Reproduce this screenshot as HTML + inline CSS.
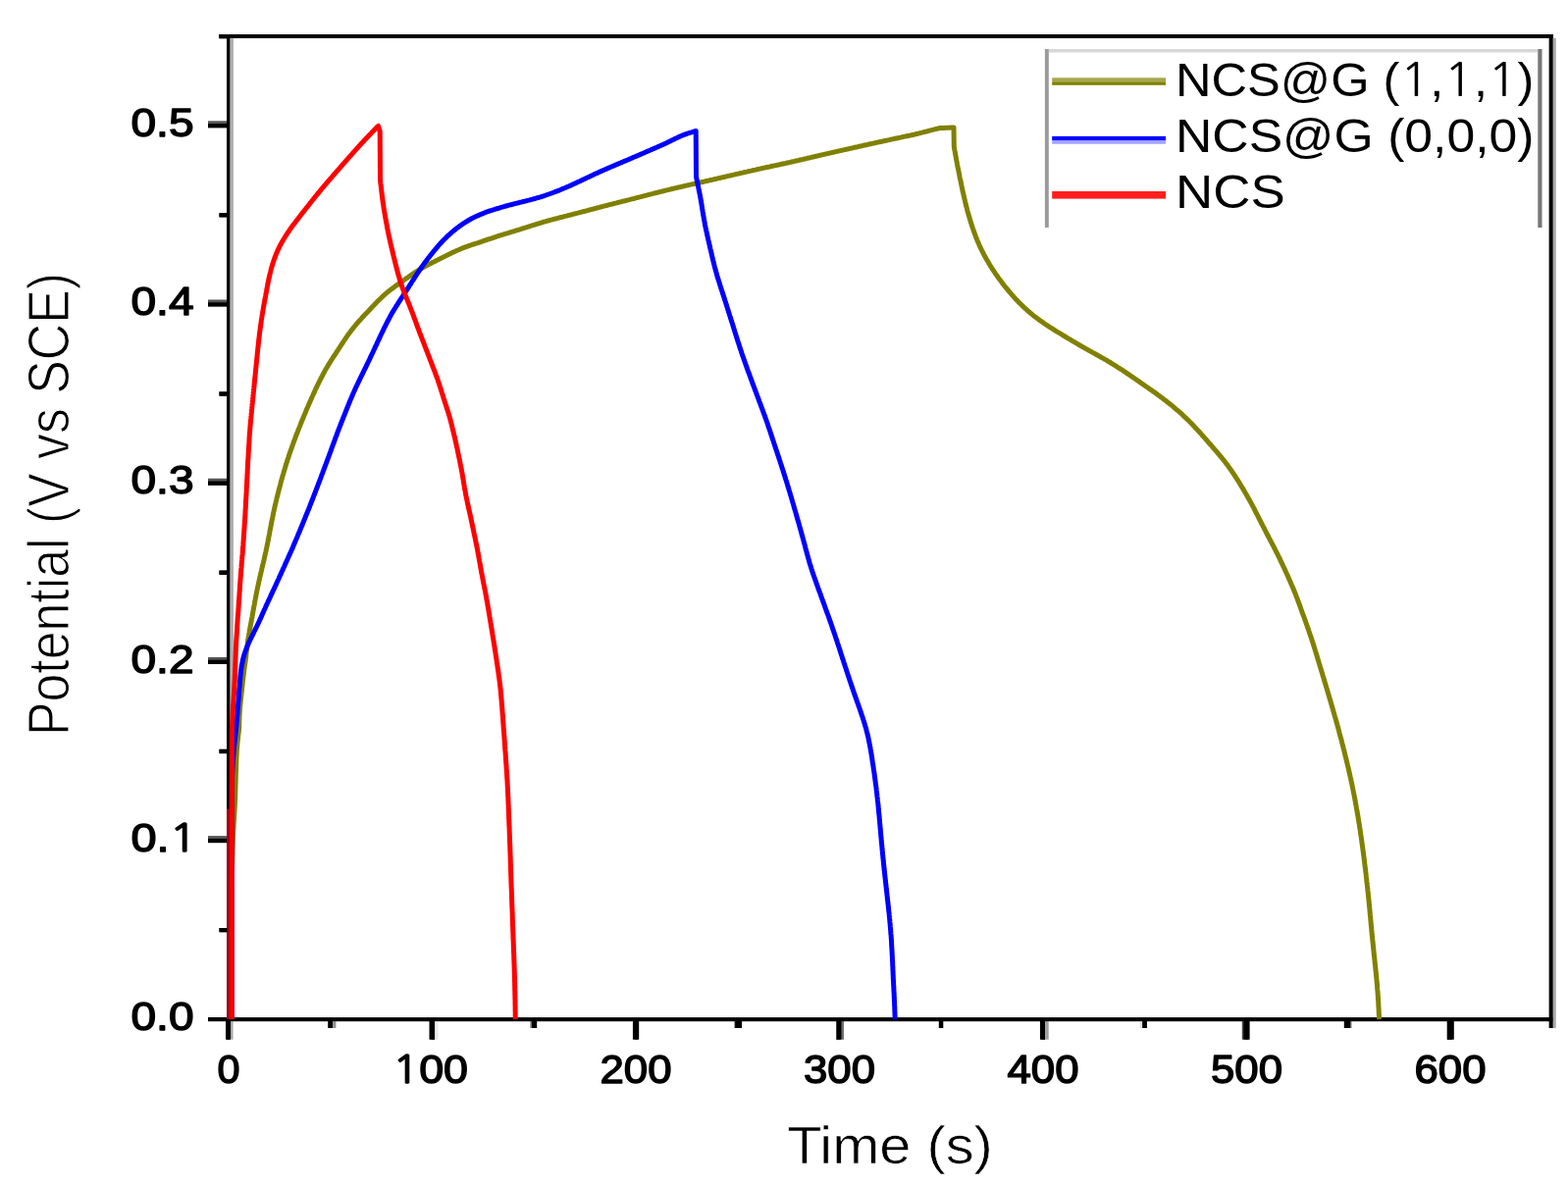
<!DOCTYPE html>
<html><head><meta charset="utf-8"><title>GCD plot</title>
<style>html,body{margin:0;padding:0;background:#fff;} svg{display:block;} text{font-family:'Liberation Sans', sans-serif;fill:#000;}</style>
</head><body>
<svg width="1598" height="1209" viewBox="0 0 1598 1209">
<rect x="0" y="0" width="1598" height="1209" fill="#fff"/>

<g id="frame">
<rect x="223" y="35" width="1360" height="3.8" fill="#000"/>
<rect x="231" y="35" width="3.5" height="1006" fill="#000"/>
<rect x="234.5" y="38.8" width="3.3" height="998.5" fill="#b0b0b0"/>
<rect x="212" y="1037.3" width="1371" height="3.8" fill="#000"/>
<rect x="1578.8" y="35" width="3.9" height="1013" fill="#000"/>
<rect x="1582.7" y="38.8" width="2.8" height="1009" fill="#a8a8a8"/>
<rect x="231" y="824.5" width="3.4" height="214.5" fill="#a00000"/>
</g>
<g id="yticks">
<rect x="212" y="852.1" width="19" height="3.4" fill="#555"/>
<rect x="212" y="855.5" width="19" height="3.7" fill="#000"/>
<rect x="212" y="669.9" width="19" height="3.4" fill="#555"/>
<rect x="212" y="673.3" width="19" height="3.7" fill="#000"/>
<rect x="212" y="487.7" width="19" height="3.4" fill="#555"/>
<rect x="212" y="491.1" width="19" height="3.7" fill="#000"/>
<rect x="212" y="305.5" width="19" height="3.4" fill="#555"/>
<rect x="212" y="308.9" width="19" height="3.7" fill="#000"/>
<rect x="212" y="123.3" width="19" height="3.4" fill="#555"/>
<rect x="212" y="126.7" width="19" height="3.7" fill="#000"/>
<rect x="223.5" y="946.0" width="8" height="4.4" fill="#000"/>
<rect x="223.5" y="763.8" width="8" height="4.4" fill="#000"/>
<rect x="223.5" y="581.6" width="8" height="4.4" fill="#000"/>
<rect x="223.5" y="399.4" width="8" height="4.4" fill="#000"/>
<rect x="223.5" y="217.2" width="8" height="4.4" fill="#000"/>
<rect x="223.5" y="35.0" width="8" height="4.4" fill="#000"/>
</g>
<g id="xticks">
<rect x="231" y="1041" width="3.4" height="18.7" fill="#000"/>
<rect x="234.4" y="1041" width="3.1" height="18.7" fill="#a8a8a8"/>
<rect x="335.3" y="1041" width="3.9" height="7" fill="#000"/>
<rect x="339.2" y="1041" width="3.2" height="7" fill="#909090"/>
<rect x="439.4" y="1041" width="3.9" height="18.7" fill="#000"/>
<rect x="443.3" y="1041" width="3.2" height="18.7" fill="#ececec"/>
<rect x="540.2" y="1041" width="3.1" height="7" fill="#909090"/>
<rect x="543.3" y="1041" width="3.9" height="7" fill="#000"/>
<rect x="644" y="1041" width="3.3" height="18.7" fill="#ececec"/>
<rect x="647.3" y="1041" width="3.9" height="18.7" fill="#000"/>
<rect x="748.2" y="1041" width="3.2" height="7" fill="#808080"/>
<rect x="751.4" y="1041" width="4.7" height="7" fill="#000"/>
<rect x="852.5" y="1041" width="3.9" height="18.7" fill="#000"/>
<rect x="856.4" y="1041" width="3.6" height="18.7" fill="#707070"/>
<rect x="957" y="1041" width="3.8" height="7" fill="#000"/>
<rect x="1061.4" y="1041" width="3.9" height="18.7" fill="#000"/>
<rect x="1065.3" y="1041" width="3.4" height="18.7" fill="#a0a0a0"/>
<rect x="1161.7" y="1041" width="3.2" height="7" fill="#e0e0e0"/>
<rect x="1164.9" y="1041" width="3.9" height="7" fill="#000"/>
<rect x="1265.8" y="1041" width="3.9" height="18.7" fill="#444"/>
<rect x="1269.7" y="1041" width="3.9" height="18.7" fill="#000"/>
<rect x="1369.8" y="1041" width="3.9" height="7" fill="#000"/>
<rect x="1373.7" y="1041" width="3.9" height="7" fill="#909090"/>
<rect x="1474.7" y="1041" width="7.1" height="18.7" fill="#000"/>
</g>
<g id="frame">
<rect x="223" y="35" width="1360" height="3.8" fill="#000"/>
<rect x="231" y="35" width="3.5" height="1006" fill="#000"/>
<rect x="234.5" y="38.8" width="3.3" height="998.5" fill="#b0b0b0"/>
<rect x="212" y="1037.3" width="1371" height="3.8" fill="#000"/>
<rect x="1578.8" y="35" width="3.9" height="1013" fill="#000"/>
<rect x="1582.7" y="38.8" width="2.8" height="1009" fill="#a8a8a8"/>
<rect x="231" y="824.5" width="3.4" height="214.5" fill="#a00000"/>
</g>
<g id="yticks" fill="#000">
<rect x="212" y="1037.1" width="19" height="3.8"/>
<rect x="212" y="854.9" width="19" height="3.8"/>
<rect x="212" y="672.7" width="19" height="3.8"/>
<rect x="212" y="490.5" width="19" height="3.8"/>
<rect x="212" y="308.3" width="19" height="3.8"/>
<rect x="212" y="126.1" width="19" height="3.8"/>
<rect x="223.5" y="946.0" width="8" height="3.8"/>
<rect x="223.5" y="763.8" width="8" height="3.8"/>
<rect x="223.5" y="581.6" width="8" height="3.8"/>
<rect x="223.5" y="399.4" width="8" height="3.8"/>
<rect x="223.5" y="217.2" width="8" height="3.8"/>
<rect x="223.5" y="35.0" width="8" height="3.8"/>
</g>
<g id="xticks" fill="#000">
<rect x="230.0" y="1041" width="5" height="18.7"/>
<rect x="437.5" y="1041" width="5" height="18.7"/>
<rect x="645.0" y="1041" width="5" height="18.7"/>
<rect x="852.5" y="1041" width="5" height="18.7"/>
<rect x="1060.0" y="1041" width="5" height="18.7"/>
<rect x="1267.5" y="1041" width="5" height="18.7"/>
<rect x="1475.0" y="1041" width="5" height="18.7"/>
<rect x="334.2" y="1041" width="4.5" height="7"/>
<rect x="541.8" y="1041" width="4.5" height="7"/>
<rect x="749.2" y="1041" width="4.5" height="7"/>
<rect x="956.8" y="1041" width="4.5" height="7"/>
<rect x="1164.2" y="1041" width="4.5" height="7"/>
<rect x="1371.8" y="1041" width="4.5" height="7"/>
</g>
<g fill="none" stroke-width="5" stroke-linejoin="round" stroke-linecap="butt">
<polyline stroke="#808000" points="236.2,1039.0 236.2,1037.5 236.2,1036.0 236.2,1034.5 236.2,1033.0 236.2,1031.5 236.2,1030.0 236.2,1028.5 236.2,1027.0 236.2,1025.5 236.2,1024.0 236.2,1022.5 236.2,1021.0 236.2,1019.5 236.2,1018.0 236.2,1016.5 236.2,1015.0 236.2,1013.5 236.2,1012.0 236.2,1010.5 236.2,1009.0 236.2,1007.5 236.2,1005.9 236.2,1004.4 236.2,1002.9 236.2,1001.4 236.2,999.9 236.2,998.4 236.2,996.9 236.2,995.4 236.2,993.9 236.2,992.4 236.2,990.9 236.2,989.4 236.2,987.9 236.2,986.4 236.2,984.9 236.2,983.4 236.2,981.9 236.2,980.4 236.2,978.9 236.2,977.4 236.2,975.9 236.2,974.4 236.2,972.9 236.2,971.4 236.2,969.9 236.2,968.4 236.2,966.9 236.2,965.4 236.2,963.9 236.2,962.4 236.2,960.9 236.2,959.4 236.2,957.9 236.2,956.4 236.2,954.9 236.2,953.4 236.2,951.9 236.2,950.4 236.2,948.9 236.2,947.4 236.2,945.9 236.2,944.4 236.2,942.9 236.2,941.4 236.2,939.8 236.2,938.3 236.2,936.8 236.2,935.3 236.2,933.8 236.2,932.3 236.2,930.8 236.2,929.3 236.2,927.8 236.2,926.3 236.2,924.8 236.2,923.3 236.2,921.8 236.2,920.3 236.2,918.8 236.2,917.3 236.2,915.8 236.2,914.3 236.2,912.8 236.2,911.3 236.2,909.8 236.2,908.3 236.2,906.8 236.2,905.3 236.3,903.8 236.3,902.3 236.3,900.8 236.3,899.3 236.3,897.8 236.3,896.3 236.4,894.8 236.4,893.3 236.4,891.8 236.5,890.3 236.5,888.8 236.5,887.3 236.6,885.8 236.6,884.3 236.7,882.8 236.7,881.3 236.7,879.8 236.8,878.3 236.8,876.8 236.8,875.3 236.9,873.8 236.9,872.3 237.0,870.8 237.0,869.3 237.0,867.7 237.1,866.2 237.1,864.7 237.2,863.2 237.2,861.7 237.3,860.2 237.3,858.7 237.4,857.2 237.4,855.7 237.5,854.2 237.5,852.7 237.6,851.2 237.7,849.7 237.7,848.2 237.8,846.7 237.9,845.2 238.0,843.7 238.1,842.2 238.1,840.7 238.2,839.2 238.3,837.7 238.4,836.2 238.5,834.7 238.6,833.2 238.7,831.7 238.8,830.2 238.9,828.7 239.0,827.2 239.1,825.7 239.1,824.2 239.2,822.7 239.3,821.2 239.4,819.7 239.4,818.2 239.5,816.7 239.6,815.2 239.6,813.7 239.7,812.2 239.7,810.7 239.8,809.2 239.8,807.7 239.9,806.2 239.9,804.7 239.9,803.2 240.0,801.7 240.0,800.2 240.1,798.7 240.1,797.2 240.2,795.7 240.2,794.2 240.2,792.7 240.3,791.2 240.3,789.7 240.4,788.2 240.4,786.7 240.5,785.2 240.5,783.7 240.6,782.2 240.6,780.7 240.7,779.2 240.8,777.7 240.8,776.2 240.9,774.7 240.9,773.2 241.0,771.7 241.1,770.2 241.2,768.7 241.2,767.2 241.3,765.7 241.4,764.2 241.5,762.7 241.7,761.2 241.8,759.7 241.9,758.2 242.1,756.7 242.2,755.2 242.4,753.7 242.5,752.2 242.7,750.8 242.8,749.3 243.0,747.8 243.2,746.3 243.4,744.8 243.5,743.3 243.7,741.8 243.7,740.3 243.8,738.8 243.8,737.3 243.8,735.8 243.9,734.3 243.9,732.8 244.0,731.3 244.0,729.8 244.1,728.3 244.2,726.8 244.3,725.3 244.4,723.8 244.5,722.3 244.6,720.8 244.8,719.3 244.9,717.8 245.1,716.3 245.2,714.9 245.4,713.4 245.5,711.9 245.7,710.4 245.9,708.9 246.0,707.4 246.2,705.9 246.4,704.4 246.5,702.9 246.7,701.4 246.8,699.9 247.0,698.4 247.2,696.9 247.3,695.4 247.5,694.0 247.7,692.5 247.8,691.0 248.0,689.5 248.2,688.0 248.4,686.5 248.6,685.0 248.7,683.5 248.9,682.0 249.1,680.6 249.3,679.1 249.6,677.6 249.8,676.1 250.0,674.6 250.2,673.1 250.4,671.6 250.6,670.2 250.8,668.7 250.9,667.2 251.1,665.7 251.3,664.2 251.5,662.7 251.6,661.2 251.8,659.7 252.0,658.3 252.2,656.8 252.3,655.3 252.5,653.8 252.8,652.3 253.0,650.8 253.2,649.4 253.5,647.9 253.7,646.4 254.0,644.9 254.2,643.4 254.5,642.0 254.8,640.5 255.1,639.0 255.3,637.5 255.6,636.1 255.9,634.6 256.2,633.1 256.4,631.6 256.7,630.2 257.0,628.7 257.2,627.2 257.5,625.7 257.8,624.3 258.0,622.8 258.3,621.3 258.6,619.8 258.8,618.3 259.1,616.9 259.4,615.4 259.6,613.9 259.9,612.4 260.2,611.0 260.5,609.5 260.8,608.0 261.0,606.5 261.3,605.1 261.6,603.6 261.9,602.1 262.2,600.7 262.5,599.2 262.8,597.7 263.2,596.2 263.5,594.8 263.8,593.3 264.1,591.8 264.4,590.4 264.8,588.9 265.1,587.5 265.4,586.0 265.8,584.5 266.1,583.1 266.5,581.6 266.8,580.1 267.1,578.7 267.5,577.2 267.8,575.8 268.2,574.3 268.5,572.8 268.9,571.4 269.2,569.9 269.5,568.4 269.9,567.0 270.2,565.5 270.5,564.0 270.9,562.6 271.2,561.1 271.5,559.6 271.8,558.2 272.1,556.7 272.4,555.2 272.7,553.8 273.0,552.3 273.3,550.8 273.5,549.3 273.8,547.9 274.1,546.4 274.4,544.9 274.7,543.4 274.9,542.0 275.2,540.5 275.5,539.0 275.8,537.5 276.1,536.1 276.3,534.6 276.6,533.1 276.9,531.6 277.2,530.2 277.5,528.7 277.8,527.2 278.1,525.8 278.4,524.3 278.7,522.8 279.0,521.3 279.3,519.9 279.6,518.4 280.0,516.9 280.3,515.5 280.6,514.0 281.0,512.6 281.3,511.1 281.7,509.6 282.0,508.2 282.4,506.7 282.8,505.3 283.1,503.8 283.5,502.4 283.9,500.9 284.2,499.4 284.6,498.0 285.0,496.5 285.4,495.1 285.8,493.6 286.1,492.2 286.5,490.7 286.9,489.3 287.3,487.8 287.7,486.4 288.1,484.9 288.6,483.5 289.0,482.1 289.4,480.6 289.8,479.2 290.3,477.7 290.7,476.3 291.1,474.9 291.6,473.4 292.0,472.0 292.5,470.6 292.9,469.1 293.4,467.7 293.9,466.3 294.3,464.9 294.8,463.4 295.3,462.0 295.8,460.6 296.3,459.2 296.8,457.8 297.3,456.4 297.8,454.9 298.3,453.5 298.8,452.1 299.3,450.7 299.8,449.3 300.4,447.9 300.9,446.5 301.4,445.1 301.9,443.7 302.5,442.3 303.0,440.9 303.6,439.5 304.1,438.1 304.7,436.7 305.2,435.3 305.8,433.9 306.3,432.5 306.9,431.1 307.4,429.7 308.0,428.3 308.6,426.9 309.2,425.5 309.7,424.1 310.3,422.8 310.9,421.4 311.5,420.0 312.1,418.6 312.6,417.2 313.2,415.8 313.8,414.5 314.4,413.1 315.0,411.7 315.6,410.3 316.2,408.9 316.8,407.6 317.4,406.2 318.0,404.8 318.6,403.5 319.2,402.1 319.9,400.7 320.5,399.4 321.1,398.0 321.7,396.6 322.4,395.3 323.0,393.9 323.7,392.6 324.3,391.2 325.0,389.9 325.6,388.5 326.3,387.2 327.0,385.8 327.7,384.5 328.4,383.2 329.1,381.8 329.8,380.5 330.5,379.2 331.2,377.9 331.9,376.6 332.7,375.3 333.5,374.0 334.2,372.7 335.0,371.4 335.8,370.1 336.6,368.9 337.4,367.6 338.2,366.3 339.0,365.1 339.8,363.8 340.7,362.6 341.5,361.3 342.3,360.1 343.1,358.8 344.0,357.6 344.8,356.3 345.6,355.0 346.4,353.8 347.2,352.5 348.1,351.3 348.9,350.0 349.7,348.8 350.5,347.5 351.4,346.3 352.2,345.0 353.1,343.8 353.9,342.5 354.8,341.3 355.6,340.1 356.5,338.9 357.4,337.7 358.3,336.5 359.3,335.3 360.2,334.2 361.1,333.0 362.1,331.8 363.0,330.7 364.0,329.5 365.0,328.4 366.0,327.3 367.0,326.2 368.0,325.1 369.0,323.9 370.0,322.8 371.0,321.7 372.1,320.6 373.1,319.5 374.1,318.5 375.2,317.4 376.2,316.3 377.2,315.2 378.2,314.1 379.3,313.0 380.3,311.9 381.4,310.8 382.4,309.7 383.4,308.7 384.5,307.6 385.5,306.5 386.6,305.5 387.7,304.4 388.7,303.4 389.8,302.3 390.9,301.3 392.0,300.3 393.1,299.3 394.3,298.4 395.4,297.4 396.6,296.5 397.8,295.6 399.0,294.6 400.2,293.8 401.4,292.9 402.6,292.0 403.8,291.1 405.0,290.3 406.3,289.4 407.5,288.6 408.7,287.7 409.9,286.8 411.2,286.0 412.4,285.1 413.6,284.2 414.8,283.4 416.1,282.5 417.3,281.6 418.5,280.8 419.7,279.9 421.0,279.1 422.2,278.2 423.5,277.4 424.7,276.6 426.0,275.8 427.2,275.0 428.5,274.2 429.8,273.5 431.1,272.7 432.4,272.0 433.7,271.3 435.1,270.6 436.4,269.9 437.7,269.2 439.1,268.5 440.4,267.8 441.7,267.1 443.1,266.5 444.4,265.8 445.7,265.1 447.1,264.4 448.4,263.8 449.8,263.1 451.1,262.4 452.5,261.8 453.8,261.1 455.1,260.4 456.5,259.8 457.8,259.1 459.2,258.4 460.5,257.8 461.9,257.1 463.3,256.5 464.6,255.9 466.0,255.3 467.4,254.7 468.7,254.1 470.1,253.5 471.5,252.9 472.9,252.4 474.3,251.8 475.7,251.3 477.1,250.8 478.5,250.3 479.9,249.9 481.4,249.4 482.8,248.9 484.2,248.5 485.6,248.0 487.1,247.6 488.5,247.1 489.9,246.6 491.3,246.2 492.7,245.7 494.2,245.2 495.6,244.7 497.0,244.2 498.4,243.7 499.8,243.3 501.2,242.8 502.7,242.3 504.1,241.8 505.5,241.3 506.9,240.9 508.3,240.4 509.8,240.0 511.2,239.5 512.6,239.1 514.1,238.6 515.5,238.2 516.9,237.8 518.4,237.3 519.8,236.9 521.3,236.5 522.7,236.0 524.1,235.6 525.6,235.1 527.0,234.7 528.4,234.3 529.9,233.8 531.3,233.4 532.7,232.9 534.2,232.5 535.6,232.0 537.0,231.5 538.5,231.1 539.9,230.6 541.3,230.2 542.8,229.7 544.2,229.3 545.6,228.8 547.1,228.4 548.5,228.0 549.9,227.5 551.4,227.1 552.8,226.7 554.2,226.2 555.7,225.8 557.1,225.4 558.6,225.0 560.0,224.6 561.5,224.2 562.9,223.8 564.4,223.4 565.8,223.0 567.3,222.7 568.7,222.3 570.2,221.9 571.6,221.5 573.1,221.2 574.5,220.8 576.0,220.4 577.5,220.1 578.9,219.7 580.4,219.3 581.8,219.0 583.3,218.6 584.7,218.2 586.2,217.8 587.6,217.4 589.1,217.1 590.5,216.7 592.0,216.3 593.4,215.9 594.9,215.5 596.4,215.2 597.8,214.8 599.3,214.4 600.7,214.0 602.2,213.6 603.6,213.3 605.1,212.9 606.5,212.5 608.0,212.1 609.4,211.7 610.9,211.4 612.3,211.0 613.8,210.6 615.2,210.2 616.7,209.8 618.1,209.5 619.6,209.1 621.0,208.7 622.5,208.3 624.0,208.0 625.4,207.6 626.9,207.2 628.3,206.9 629.8,206.5 631.2,206.1 632.7,205.8 634.2,205.4 635.6,205.0 637.1,204.7 638.5,204.3 640.0,203.9 641.4,203.6 642.9,203.2 644.3,202.8 645.8,202.5 647.2,202.1 648.7,201.7 650.2,201.3 651.6,200.9 653.1,200.6 654.5,200.2 656.0,199.8 657.4,199.4 658.9,199.1 660.3,198.7 661.8,198.3 663.2,197.9 664.7,197.6 666.1,197.2 667.6,196.8 669.1,196.5 670.5,196.1 672.0,195.7 673.4,195.4 674.9,195.0 676.3,194.7 677.8,194.3 679.3,193.9 680.7,193.6 682.2,193.2 683.6,192.9 685.1,192.5 686.6,192.2 688.0,191.8 689.5,191.5 690.9,191.1 692.4,190.8 693.9,190.5 695.3,190.1 696.8,189.8 698.3,189.4 699.7,189.1 701.2,188.8 702.7,188.4 704.1,188.1 705.6,187.8 707.0,187.5 708.5,187.1 710.0,186.8 711.4,186.5 712.9,186.1 714.4,185.8 715.8,185.5 717.3,185.2 718.8,184.8 720.2,184.5 721.7,184.2 723.2,183.8 724.6,183.5 726.1,183.2 727.6,182.8 729.0,182.5 730.5,182.2 731.9,181.8 733.4,181.5 734.9,181.1 736.3,180.8 737.8,180.5 739.3,180.1 740.7,179.8 742.2,179.4 743.6,179.1 745.1,178.8 746.6,178.4 748.0,178.1 749.5,177.7 751.0,177.4 752.4,177.1 753.9,176.7 755.3,176.4 756.8,176.1 758.3,175.7 759.7,175.4 761.2,175.1 762.7,174.7 764.1,174.4 765.6,174.1 767.1,173.7 768.5,173.4 770.0,173.1 771.5,172.7 772.9,172.4 774.4,172.1 775.9,171.8 777.3,171.4 778.8,171.1 780.3,170.8 781.7,170.5 783.2,170.2 784.7,169.9 786.1,169.5 787.6,169.2 789.1,168.9 790.5,168.6 792.0,168.3 793.5,168.0 794.9,167.6 796.4,167.3 797.9,167.0 799.3,166.7 800.8,166.4 802.3,166.0 803.7,165.7 805.2,165.4 806.7,165.0 808.1,164.7 809.6,164.4 811.1,164.0 812.5,163.7 814.0,163.4 815.4,163.0 816.9,162.7 818.4,162.4 819.8,162.0 821.3,161.7 822.8,161.3 824.2,161.0 825.7,160.7 827.1,160.3 828.6,160.0 830.1,159.6 831.5,159.3 833.0,159.0 834.5,158.6 835.9,158.3 837.4,157.9 838.8,157.6 840.3,157.3 841.8,156.9 843.2,156.6 844.7,156.3 846.2,155.9 847.6,155.6 849.1,155.3 850.6,154.9 852.0,154.6 853.5,154.3 855.0,153.9 856.4,153.6 857.9,153.3 859.3,152.9 860.8,152.6 862.3,152.3 863.7,152.0 865.2,151.6 866.7,151.3 868.1,151.0 869.6,150.6 871.1,150.3 872.5,150.0 874.0,149.7 875.5,149.3 876.9,149.0 878.4,148.7 879.9,148.3 881.3,148.0 882.8,147.7 884.3,147.4 885.7,147.0 887.2,146.7 888.7,146.4 890.1,146.1 891.6,145.8 893.1,145.4 894.5,145.1 896.0,144.8 897.5,144.5 898.9,144.2 900.4,143.8 901.9,143.5 903.3,143.2 904.8,142.9 906.3,142.6 907.7,142.2 909.2,141.9 910.7,141.6 912.1,141.3 913.6,141.0 915.1,140.7 916.5,140.4 918.0,140.1 919.5,139.7 920.9,139.4 922.4,139.1 923.9,138.8 925.4,138.5 926.8,138.2 928.3,137.9 929.8,137.5 931.2,137.2 932.7,136.9 934.1,136.5 935.6,136.2 937.1,135.8 938.5,135.4 940.0,135.1 941.4,134.7 942.9,134.3 944.3,134.0 945.8,133.6 947.2,133.2 948.7,132.8 950.1,132.4 951.6,132.1 953.0,131.7 954.5,131.3 955.9,131.0 957.4,130.6 959.0,130.5 960.6,130.4 962.3,130.4 963.9,130.3 965.5,130.2 967.1,130.2 968.8,130.1 970.4,130.1 972.0,130.0 972.3,149.7 972.6,151.2 972.8,152.7 973.1,154.1 973.4,155.6 973.6,157.1 973.9,158.6 974.2,160.0 974.4,161.5 974.7,163.0 975.0,164.5 975.3,165.9 975.5,167.4 975.8,168.9 976.1,170.4 976.4,171.8 976.7,173.3 977.0,174.8 977.3,176.3 977.6,177.7 977.9,179.2 978.1,180.7 978.4,182.1 978.8,183.6 979.1,185.1 979.4,186.6 979.7,188.0 980.0,189.5 980.3,191.0 980.6,192.4 980.9,193.9 981.2,195.4 981.6,196.8 981.9,198.3 982.2,199.7 982.6,201.2 982.9,202.7 983.3,204.1 983.6,205.6 984.0,207.0 984.3,208.5 984.7,210.0 985.1,211.4 985.5,212.9 985.8,214.3 986.2,215.8 986.6,217.2 987.0,218.6 987.5,220.1 987.9,221.5 988.3,223.0 988.7,224.4 989.2,225.8 989.6,227.3 990.1,228.7 990.5,230.1 991.0,231.5 991.5,233.0 992.0,234.4 992.5,235.8 993.0,237.2 993.5,238.6 994.0,240.0 994.5,241.4 995.1,242.8 995.6,244.2 996.2,245.6 996.8,246.9 997.4,248.3 998.0,249.7 998.6,251.0 999.2,252.4 999.9,253.8 1000.5,255.1 1001.2,256.4 1001.9,257.8 1002.5,259.1 1003.2,260.4 1004.0,261.7 1004.7,263.0 1005.4,264.3 1006.2,265.6 1006.9,266.9 1007.7,268.2 1008.4,269.5 1009.2,270.8 1010.0,272.0 1010.8,273.3 1011.6,274.5 1012.4,275.8 1013.3,277.0 1014.1,278.3 1014.9,279.5 1015.8,280.7 1016.7,282.0 1017.5,283.2 1018.4,284.4 1019.3,285.6 1020.2,286.8 1021.1,288.0 1022.0,289.2 1022.9,290.4 1023.8,291.6 1024.8,292.7 1025.7,293.9 1026.7,295.0 1027.6,296.2 1028.6,297.3 1029.6,298.5 1030.5,299.6 1031.5,300.7 1032.5,301.9 1033.5,303.0 1034.5,304.1 1035.5,305.2 1036.6,306.3 1037.6,307.4 1038.6,308.4 1039.7,309.5 1040.8,310.5 1041.8,311.6 1042.9,312.6 1044.0,313.7 1045.1,314.7 1046.2,315.7 1047.3,316.7 1048.4,317.7 1049.6,318.6 1050.7,319.6 1051.9,320.5 1053.0,321.5 1054.2,322.4 1055.4,323.3 1056.6,324.2 1057.8,325.1 1059.0,326.0 1060.2,326.9 1061.4,327.7 1062.6,328.6 1063.9,329.4 1065.1,330.3 1066.3,331.1 1067.6,331.9 1068.8,332.8 1070.1,333.6 1071.4,334.4 1072.6,335.2 1073.9,336.0 1075.2,336.8 1076.4,337.6 1077.7,338.4 1079.0,339.1 1080.3,339.9 1081.6,340.7 1082.8,341.5 1084.1,342.3 1085.4,343.0 1086.7,343.8 1088.0,344.6 1089.3,345.4 1090.6,346.1 1091.8,346.9 1093.1,347.7 1094.4,348.4 1095.7,349.2 1097.0,349.9 1098.3,350.7 1099.6,351.5 1100.9,352.2 1102.2,353.0 1103.5,353.7 1104.8,354.4 1106.1,355.2 1107.4,355.9 1108.7,356.7 1110.0,357.4 1111.4,358.1 1112.7,358.9 1114.0,359.6 1115.3,360.3 1116.6,361.0 1117.9,361.8 1119.2,362.5 1120.5,363.2 1121.8,364.0 1123.1,364.7 1124.4,365.4 1125.7,366.2 1127.0,366.9 1128.3,367.7 1129.6,368.5 1130.9,369.2 1132.2,370.0 1133.5,370.8 1134.8,371.6 1136.0,372.4 1137.3,373.2 1138.6,374.0 1139.8,374.8 1141.1,375.6 1142.3,376.4 1143.6,377.2 1144.8,378.0 1146.1,378.9 1147.3,379.7 1148.6,380.6 1149.8,381.4 1151.1,382.2 1152.3,383.1 1153.5,383.9 1154.8,384.8 1156.0,385.6 1157.3,386.5 1158.5,387.3 1159.7,388.2 1161.0,389.0 1162.2,389.9 1163.4,390.8 1164.7,391.6 1165.9,392.5 1167.1,393.3 1168.4,394.2 1169.6,395.0 1170.8,395.9 1172.0,396.8 1173.3,397.6 1174.5,398.5 1175.7,399.4 1176.9,400.2 1178.2,401.1 1179.4,402.0 1180.6,402.9 1181.8,403.8 1183.0,404.7 1184.2,405.6 1185.4,406.5 1186.6,407.4 1187.8,408.3 1189.0,409.2 1190.1,410.1 1191.3,411.1 1192.5,412.0 1193.6,412.9 1194.8,413.9 1196.0,414.9 1197.1,415.8 1198.2,416.8 1199.4,417.8 1200.5,418.7 1201.6,419.7 1202.8,420.7 1203.9,421.7 1205.0,422.7 1206.1,423.8 1207.2,424.8 1208.3,425.8 1209.3,426.9 1210.4,427.9 1211.5,428.9 1212.5,430.0 1213.6,431.1 1214.6,432.1 1215.7,433.2 1216.7,434.3 1217.7,435.4 1218.8,436.5 1219.8,437.6 1220.8,438.7 1221.8,439.8 1222.8,440.9 1223.8,442.0 1224.8,443.2 1225.8,444.3 1226.8,445.4 1227.8,446.5 1228.8,447.7 1229.7,448.8 1230.7,449.9 1231.7,451.1 1232.7,452.2 1233.7,453.3 1234.7,454.4 1235.7,455.6 1236.6,456.7 1237.6,457.8 1238.6,459.0 1239.6,460.1 1240.5,461.2 1241.5,462.4 1242.5,463.5 1243.4,464.7 1244.4,465.8 1245.3,467.0 1246.3,468.1 1247.2,469.3 1248.1,470.5 1249.1,471.7 1250.0,472.9 1250.9,474.0 1251.8,475.2 1252.6,476.5 1253.5,477.7 1254.4,478.9 1255.2,480.1 1256.1,481.4 1256.9,482.6 1257.7,483.9 1258.6,485.1 1259.4,486.4 1260.2,487.6 1261.0,488.9 1261.8,490.2 1262.6,491.4 1263.4,492.7 1264.1,494.0 1264.9,495.3 1265.7,496.5 1266.5,497.8 1267.2,499.1 1268.0,500.4 1268.8,501.7 1269.5,503.0 1270.3,504.3 1271.0,505.6 1271.7,506.9 1272.5,508.2 1273.2,509.5 1273.9,510.8 1274.7,512.1 1275.4,513.5 1276.1,514.8 1276.8,516.1 1277.5,517.4 1278.2,518.8 1278.9,520.1 1279.5,521.4 1280.2,522.8 1280.9,524.1 1281.6,525.4 1282.3,526.8 1282.9,528.1 1283.6,529.5 1284.3,530.8 1285.0,532.1 1285.6,533.5 1286.3,534.8 1287.0,536.1 1287.7,537.5 1288.4,538.8 1289.1,540.1 1289.8,541.5 1290.4,542.8 1291.1,544.1 1291.8,545.5 1292.5,546.8 1293.2,548.1 1293.9,549.4 1294.6,550.8 1295.3,552.1 1296.0,553.4 1296.7,554.8 1297.4,556.1 1298.1,557.4 1298.8,558.8 1299.5,560.1 1300.1,561.4 1300.8,562.8 1301.5,564.1 1302.2,565.5 1302.8,566.8 1303.5,568.1 1304.1,569.5 1304.8,570.8 1305.4,572.2 1306.1,573.5 1306.7,574.9 1307.4,576.3 1308.0,577.6 1308.7,579.0 1309.3,580.3 1309.9,581.7 1310.5,583.1 1311.2,584.4 1311.8,585.8 1312.4,587.1 1313.0,588.5 1313.6,589.9 1314.2,591.3 1314.8,592.6 1315.4,594.0 1316.0,595.4 1316.6,596.8 1317.2,598.1 1317.8,599.5 1318.4,600.9 1318.9,602.3 1319.5,603.7 1320.0,605.1 1320.6,606.5 1321.1,607.9 1321.7,609.3 1322.2,610.7 1322.7,612.1 1323.2,613.5 1323.8,614.9 1324.3,616.3 1324.8,617.7 1325.3,619.1 1325.8,620.5 1326.3,622.0 1326.8,623.4 1327.3,624.8 1327.8,626.2 1328.4,627.6 1328.9,629.0 1329.4,630.4 1329.9,631.8 1330.4,633.2 1330.9,634.7 1331.4,636.1 1331.9,637.5 1332.4,638.9 1332.9,640.3 1333.4,641.7 1333.9,643.2 1334.4,644.6 1334.8,646.0 1335.3,647.4 1335.8,648.8 1336.3,650.3 1336.8,651.7 1337.2,653.1 1337.7,654.5 1338.2,656.0 1338.6,657.4 1339.1,658.8 1339.5,660.3 1340.0,661.7 1340.4,663.1 1340.8,664.5 1341.3,666.0 1341.7,667.4 1342.2,668.9 1342.6,670.3 1343.0,671.7 1343.5,673.2 1343.9,674.6 1344.3,676.0 1344.8,677.5 1345.2,678.9 1345.6,680.3 1346.1,681.8 1346.5,683.2 1346.9,684.7 1347.4,686.1 1347.8,687.5 1348.2,689.0 1348.7,690.4 1349.1,691.8 1349.5,693.3 1350.0,694.7 1350.4,696.2 1350.8,697.6 1351.3,699.0 1351.7,700.5 1352.1,701.9 1352.6,703.4 1353.0,704.8 1353.4,706.2 1353.8,707.7 1354.3,709.1 1354.7,710.5 1355.1,712.0 1355.5,713.4 1356.0,714.9 1356.4,716.3 1356.8,717.7 1357.2,719.2 1357.6,720.6 1358.1,722.1 1358.5,723.5 1358.9,725.0 1359.3,726.4 1359.7,727.8 1360.1,729.3 1360.5,730.7 1361.0,732.2 1361.4,733.6 1361.8,735.1 1362.2,736.5 1362.6,738.0 1363.0,739.4 1363.4,740.8 1363.8,742.3 1364.2,743.7 1364.6,745.2 1364.9,746.6 1365.3,748.1 1365.7,749.5 1366.1,751.0 1366.5,752.4 1366.9,753.9 1367.3,755.3 1367.6,756.8 1368.0,758.3 1368.4,759.7 1368.8,761.2 1369.1,762.6 1369.5,764.1 1369.9,765.5 1370.2,767.0 1370.6,768.4 1370.9,769.9 1371.3,771.4 1371.7,772.8 1372.0,774.3 1372.4,775.7 1372.7,777.2 1373.1,778.6 1373.4,780.1 1373.8,781.6 1374.1,783.0 1374.5,784.5 1374.8,785.9 1375.1,787.4 1375.5,788.9 1375.8,790.3 1376.1,791.8 1376.5,793.3 1376.8,794.7 1377.1,796.2 1377.4,797.7 1377.7,799.1 1378.0,800.6 1378.3,802.1 1378.6,803.5 1378.9,805.0 1379.2,806.5 1379.5,808.0 1379.8,809.4 1380.1,810.9 1380.4,812.4 1380.7,813.9 1380.9,815.3 1381.2,816.8 1381.5,818.3 1381.7,819.8 1382.0,821.2 1382.3,822.7 1382.5,824.2 1382.8,825.7 1383.0,827.1 1383.3,828.6 1383.6,830.1 1383.8,831.6 1384.1,833.1 1384.3,834.5 1384.5,836.0 1384.8,837.5 1385.0,839.0 1385.3,840.5 1385.5,842.0 1385.7,843.4 1386.0,844.9 1386.2,846.4 1386.4,847.9 1386.6,849.4 1386.8,850.9 1387.1,852.3 1387.3,853.8 1387.5,855.3 1387.7,856.8 1387.9,858.3 1388.1,859.8 1388.3,861.3 1388.5,862.7 1388.7,864.2 1388.9,865.7 1389.1,867.2 1389.3,868.7 1389.5,870.2 1389.7,871.7 1389.9,873.2 1390.1,874.7 1390.3,876.1 1390.5,877.6 1390.6,879.1 1390.8,880.6 1391.0,882.1 1391.2,883.6 1391.4,885.1 1391.6,886.6 1391.7,888.1 1391.9,889.6 1392.1,891.0 1392.3,892.5 1392.4,894.0 1392.6,895.5 1392.8,897.0 1392.9,898.5 1393.1,900.0 1393.3,901.5 1393.4,903.0 1393.6,904.5 1393.8,906.0 1393.9,907.5 1394.1,908.9 1394.2,910.4 1394.4,911.9 1394.5,913.4 1394.7,914.9 1394.8,916.4 1395.0,917.9 1395.1,919.4 1395.3,920.9 1395.4,922.4 1395.6,923.9 1395.7,925.4 1395.9,926.9 1396.0,928.4 1396.1,929.9 1396.3,931.4 1396.4,932.8 1396.6,934.3 1396.7,935.8 1396.8,937.3 1397.0,938.8 1397.1,940.3 1397.2,941.8 1397.4,943.3 1397.5,944.8 1397.7,946.3 1397.8,947.8 1397.9,949.3 1398.1,950.8 1398.2,952.3 1398.4,953.8 1398.5,955.3 1398.7,956.8 1398.8,958.3 1399.0,959.7 1399.1,961.2 1399.3,962.7 1399.4,964.2 1399.6,965.7 1399.7,967.2 1399.9,968.7 1400.0,970.2 1400.2,971.7 1400.3,973.2 1400.5,974.7 1400.7,976.2 1400.8,977.7 1401.0,979.2 1401.1,980.6 1401.3,982.1 1401.5,983.6 1401.6,985.1 1401.8,986.6 1401.9,988.1 1402.1,989.6 1402.2,991.1 1402.4,992.6 1402.5,994.1 1402.7,995.6 1402.8,997.1 1402.9,998.6 1403.1,1000.1 1403.2,1001.6 1403.4,1003.1 1403.5,1004.5 1403.6,1006.0 1403.7,1007.5 1403.8,1009.0 1404.0,1010.5 1404.1,1012.0 1404.2,1013.5 1404.3,1015.0 1404.4,1016.5 1404.5,1018.0 1404.6,1019.5 1404.7,1021.0 1404.8,1022.5 1404.8,1024.0 1404.9,1025.5 1405.0,1027.0 1405.1,1028.5 1405.2,1030.0 1405.2,1031.5 1405.3,1033.0 1405.4,1034.5 1405.5,1036.0 1405.5,1037.5 1405.6,1039.0"/>
<polyline stroke="#0000ff" points="236.2,1039.0 236.2,830.0 236.2,828.5 236.2,827.0 236.2,825.5 236.2,824.0 236.2,822.5 236.2,821.0 236.3,819.5 236.3,818.0 236.3,816.5 236.3,815.0 236.3,813.5 236.3,812.0 236.3,810.5 236.3,809.0 236.3,807.5 236.3,806.0 236.3,804.5 236.4,803.0 236.4,801.5 236.4,800.0 236.4,798.5 236.4,797.0 236.5,795.5 236.5,794.0 236.5,792.5 236.6,791.0 236.6,789.5 236.7,788.0 236.7,786.5 236.8,785.0 236.9,783.5 237.0,782.0 237.1,780.5 237.1,779.0 237.2,777.5 237.3,776.0 237.4,774.5 237.5,773.0 237.7,771.5 237.8,770.0 237.9,768.5 238.0,767.0 238.2,765.5 238.3,764.0 238.5,762.5 238.6,761.0 238.8,759.6 238.9,758.1 239.1,756.6 239.3,755.1 239.4,753.6 239.6,752.1 239.7,750.6 239.9,749.1 240.1,747.6 240.2,746.1 240.4,744.6 240.5,743.1 240.7,741.6 240.8,740.2 241.0,738.7 241.1,737.2 241.2,735.7 241.4,734.2 241.5,732.7 241.6,731.2 241.7,729.7 241.9,728.2 242.0,726.7 242.1,725.2 242.2,723.7 242.3,722.2 242.5,720.7 242.6,719.2 242.7,717.7 242.8,716.2 242.9,714.7 243.1,713.2 243.2,711.7 243.3,710.2 243.4,708.7 243.5,707.2 243.6,705.7 243.7,704.2 243.8,702.7 243.9,701.3 244.1,699.8 244.2,698.3 244.3,696.8 244.4,695.3 244.5,693.8 244.7,692.3 244.8,690.8 244.9,689.3 245.1,687.8 245.2,686.3 245.4,684.8 245.6,683.3 245.8,681.8 246.0,680.4 246.2,678.9 246.5,677.4 246.8,676.0 247.1,674.5 247.4,673.0 247.7,671.6 248.1,670.1 248.5,668.7 248.9,667.3 249.4,665.9 249.9,664.4 250.4,663.0 250.9,661.6 251.4,660.2 252.0,658.9 252.6,657.5 253.2,656.1 253.8,654.7 254.4,653.4 255.1,652.0 255.7,650.7 256.4,649.3 257.0,648.0 257.7,646.7 258.4,645.3 259.0,644.0 259.7,642.6 260.4,641.3 261.0,639.9 261.7,638.6 262.3,637.2 263.0,635.9 263.6,634.5 264.2,633.2 264.9,631.8 265.5,630.4 266.1,629.1 266.7,627.7 267.3,626.3 267.9,624.9 268.5,623.6 269.1,622.2 269.8,620.8 270.4,619.5 271.0,618.1 271.6,616.7 272.2,615.4 272.9,614.0 273.5,612.6 274.1,611.3 274.8,609.9 275.4,608.6 276.0,607.2 276.6,605.8 277.3,604.5 277.9,603.1 278.5,601.7 279.2,600.4 279.8,599.0 280.4,597.7 281.1,596.3 281.7,594.9 282.3,593.6 282.9,592.2 283.6,590.8 284.2,589.5 284.8,588.1 285.4,586.7 286.1,585.4 286.7,584.0 287.3,582.6 287.9,581.3 288.5,579.9 289.2,578.5 289.8,577.2 290.4,575.8 291.0,574.4 291.6,573.1 292.3,571.7 292.9,570.3 293.5,569.0 294.1,567.6 294.7,566.2 295.3,564.9 295.9,563.5 296.6,562.1 297.2,560.7 297.8,559.4 298.4,558.0 299.0,556.6 299.5,555.2 300.1,553.9 300.7,552.5 301.3,551.1 301.9,549.7 302.5,548.3 303.1,546.9 303.6,545.6 304.2,544.2 304.8,542.8 305.4,541.4 306.0,540.0 306.5,538.6 307.1,537.2 307.7,535.9 308.3,534.5 308.8,533.1 309.4,531.7 310.0,530.3 310.5,528.9 311.1,527.5 311.7,526.1 312.2,524.7 312.8,523.4 313.3,522.0 313.9,520.6 314.5,519.2 315.0,517.8 315.6,516.4 316.1,515.0 316.7,513.6 317.2,512.2 317.8,510.8 318.3,509.4 318.9,508.0 319.4,506.6 319.9,505.2 320.5,503.8 321.0,502.4 321.6,501.0 322.1,499.6 322.6,498.2 323.2,496.8 323.7,495.4 324.2,494.0 324.8,492.6 325.3,491.2 325.8,489.8 326.4,488.4 326.9,487.0 327.4,485.6 327.9,484.2 328.5,482.7 329.0,481.3 329.5,479.9 330.1,478.5 330.6,477.1 331.1,475.7 331.6,474.3 332.2,472.9 332.7,471.5 333.2,470.1 333.7,468.7 334.3,467.3 334.8,465.9 335.3,464.5 335.8,463.1 336.3,461.7 336.9,460.2 337.4,458.8 337.9,457.4 338.4,456.0 338.9,454.6 339.4,453.2 340.0,451.8 340.5,450.4 341.0,449.0 341.5,447.6 342.0,446.1 342.6,444.7 343.1,443.3 343.6,441.9 344.1,440.5 344.7,439.1 345.2,437.7 345.7,436.3 346.3,434.9 346.8,433.5 347.4,432.1 347.9,430.7 348.5,429.3 349.0,427.9 349.6,426.5 350.1,425.1 350.7,423.8 351.2,422.4 351.8,421.0 352.4,419.6 352.9,418.2 353.5,416.8 354.0,415.4 354.6,414.0 355.1,412.6 355.7,411.2 356.3,409.8 356.8,408.4 357.4,407.0 358.0,405.7 358.6,404.3 359.2,402.9 359.7,401.5 360.4,400.1 361.0,398.8 361.6,397.4 362.2,396.0 362.8,394.7 363.5,393.3 364.1,392.0 364.8,390.6 365.4,389.3 366.1,387.9 366.7,386.6 367.4,385.2 368.0,383.9 368.7,382.5 369.4,381.2 370.0,379.8 370.7,378.5 371.3,377.1 372.0,375.8 372.7,374.4 373.3,373.1 374.0,371.7 374.6,370.4 375.3,369.0 375.9,367.7 376.6,366.3 377.2,364.9 377.8,363.6 378.5,362.2 379.1,360.9 379.8,359.5 380.4,358.2 381.0,356.8 381.7,355.4 382.3,354.1 382.9,352.7 383.6,351.4 384.2,350.0 384.8,348.6 385.5,347.3 386.1,345.9 386.7,344.6 387.4,343.2 388.0,341.8 388.6,340.5 389.3,339.1 389.9,337.8 390.6,336.4 391.2,335.1 391.9,333.7 392.6,332.4 393.2,331.0 393.9,329.7 394.6,328.3 395.3,327.0 396.0,325.7 396.7,324.4 397.4,323.0 398.1,321.7 398.8,320.4 399.6,319.1 400.3,317.8 401.1,316.6 401.9,315.3 402.7,314.0 403.5,312.7 404.3,311.5 405.1,310.2 405.9,308.9 406.7,307.7 407.5,306.4 408.3,305.1 409.1,303.9 410.0,302.6 410.8,301.4 411.6,300.1 412.4,298.9 413.2,297.6 414.1,296.3 414.9,295.1 415.7,293.8 416.5,292.6 417.3,291.3 418.1,290.0 418.9,288.8 419.7,287.5 420.5,286.2 421.4,285.0 422.2,283.7 423.0,282.4 423.8,281.2 424.6,279.9 425.4,278.7 426.3,277.4 427.1,276.2 427.9,274.9 428.8,273.7 429.6,272.5 430.5,271.2 431.4,270.0 432.2,268.8 433.1,267.6 434.0,266.4 434.9,265.2 435.8,264.0 436.7,262.8 437.7,261.6 438.6,260.4 439.5,259.2 440.5,258.1 441.4,256.9 442.3,255.7 443.3,254.6 444.3,253.4 445.2,252.3 446.2,251.2 447.2,250.0 448.2,248.9 449.2,247.8 450.2,246.7 451.2,245.6 452.3,244.5 453.3,243.5 454.4,242.4 455.5,241.4 456.5,240.3 457.6,239.3 458.8,238.3 459.9,237.3 461.0,236.4 462.2,235.4 463.3,234.5 464.5,233.5 465.7,232.6 466.9,231.7 468.0,230.8 469.3,229.9 470.5,229.0 471.7,228.2 473.0,227.4 474.2,226.6 475.5,225.8 476.8,225.0 478.1,224.3 479.4,223.5 480.7,222.8 482.0,222.1 483.3,221.5 484.7,220.8 486.0,220.2 487.4,219.6 488.8,219.0 490.2,218.4 491.5,217.8 492.9,217.3 494.3,216.7 495.7,216.2 497.2,215.7 498.6,215.2 500.0,214.7 501.4,214.3 502.8,213.8 504.3,213.4 505.7,212.9 507.1,212.5 508.6,212.1 510.0,211.6 511.5,211.2 512.9,210.8 514.3,210.4 515.8,210.0 517.2,209.6 518.7,209.2 520.1,208.8 521.6,208.5 523.0,208.1 524.5,207.7 526.0,207.3 527.4,207.0 528.9,206.6 530.3,206.2 531.8,205.9 533.2,205.5 534.7,205.2 536.1,204.8 537.6,204.4 539.1,204.1 540.5,203.7 542.0,203.3 543.4,202.9 544.9,202.5 546.3,202.1 547.7,201.7 549.2,201.3 550.6,200.9 552.1,200.4 553.5,200.0 554.9,199.5 556.3,199.0 557.7,198.5 559.2,198.0 560.6,197.5 562.0,197.0 563.4,196.5 564.8,196.0 566.2,195.4 567.6,194.9 569.0,194.3 570.4,193.8 571.8,193.2 573.1,192.6 574.5,192.0 575.9,191.5 577.3,190.9 578.7,190.3 580.0,189.7 581.4,189.1 582.8,188.5 584.1,187.8 585.5,187.2 586.9,186.6 588.2,185.9 589.6,185.3 591.0,184.7 592.3,184.0 593.7,183.4 595.0,182.7 596.4,182.1 597.7,181.4 599.1,180.8 600.4,180.2 601.8,179.5 603.2,178.9 604.5,178.3 605.9,177.6 607.2,177.0 608.6,176.4 610.0,175.7 611.3,175.1 612.7,174.5 614.1,173.9 615.5,173.3 616.8,172.7 618.2,172.1 619.6,171.5 621.0,170.9 622.3,170.3 623.7,169.7 625.1,169.1 626.5,168.5 627.9,167.9 629.2,167.4 630.6,166.8 632.0,166.2 633.4,165.6 634.8,165.0 636.2,164.4 637.5,163.8 638.9,163.3 640.3,162.7 641.7,162.1 643.1,161.5 644.4,160.9 645.8,160.3 647.2,159.7 648.6,159.1 650.0,158.6 651.3,158.0 652.7,157.4 654.1,156.8 655.5,156.2 656.9,155.6 658.2,155.0 659.6,154.4 661.0,153.8 662.4,153.2 663.7,152.6 665.1,152.0 666.5,151.4 667.9,150.8 669.3,150.2 670.6,149.6 672.0,149.0 673.4,148.4 674.7,147.8 676.1,147.2 677.5,146.5 678.8,145.9 680.2,145.2 681.5,144.6 682.9,143.9 684.2,143.3 685.5,142.6 686.9,142.0 688.2,141.3 689.6,140.7 690.9,140.0 692.3,139.4 693.7,138.8 695.1,138.2 696.4,137.7 697.8,137.1 699.2,136.6 700.6,136.1 702.1,135.7 703.5,135.2 704.9,134.8 706.3,134.3 707.8,133.9 709.2,133.5 709.5,180.0 709.8,181.5 710.1,182.9 710.4,184.4 710.7,185.9 711.0,187.3 711.3,188.8 711.6,190.3 711.9,191.8 712.2,193.2 712.5,194.7 712.8,196.2 713.1,197.7 713.4,199.1 713.6,200.6 713.9,202.1 714.2,203.6 714.4,205.0 714.7,206.5 714.9,208.0 715.2,209.5 715.4,211.0 715.6,212.4 715.9,213.9 716.1,215.4 716.4,216.9 716.6,218.4 716.8,219.8 717.1,221.3 717.4,222.8 717.6,224.3 717.9,225.7 718.2,227.2 718.4,228.7 718.7,230.2 719.0,231.6 719.3,233.1 719.6,234.6 720.0,236.0 720.3,237.5 720.6,239.0 720.9,240.4 721.3,241.9 721.6,243.4 721.9,244.8 722.3,246.3 722.6,247.8 722.9,249.2 723.3,250.7 723.6,252.2 723.9,253.6 724.3,255.1 724.6,256.5 725.0,258.0 725.3,259.5 725.6,260.9 726.0,262.4 726.3,263.9 726.7,265.3 727.0,266.8 727.4,268.2 727.8,269.7 728.1,271.1 728.5,272.6 728.9,274.0 729.3,275.5 729.7,276.9 730.1,278.4 730.5,279.8 730.9,281.3 731.3,282.7 731.8,284.1 732.2,285.6 732.7,287.0 733.1,288.4 733.6,289.9 734.0,291.3 734.5,292.7 734.9,294.2 735.4,295.6 735.9,297.0 736.3,298.4 736.8,299.9 737.3,301.3 737.7,302.7 738.2,304.1 738.6,305.6 739.1,307.0 739.6,308.4 740.0,309.9 740.5,311.3 740.9,312.7 741.4,314.2 741.8,315.6 742.3,317.0 742.7,318.5 743.2,319.9 743.6,321.3 744.1,322.8 744.5,324.2 745.0,325.6 745.4,327.1 745.9,328.5 746.4,329.9 746.8,331.4 747.3,332.8 747.7,334.2 748.1,335.7 748.6,337.1 749.0,338.5 749.5,340.0 749.9,341.4 750.4,342.8 750.8,344.3 751.3,345.7 751.7,347.1 752.2,348.6 752.7,350.0 753.1,351.4 753.6,352.8 754.0,354.3 754.5,355.7 755.0,357.1 755.5,358.5 755.9,360.0 756.4,361.4 756.9,362.8 757.4,364.2 757.9,365.6 758.4,367.1 758.9,368.5 759.4,369.9 759.9,371.3 760.4,372.7 760.9,374.1 761.4,375.6 761.9,377.0 762.4,378.4 763.0,379.8 763.5,381.2 764.0,382.6 764.5,384.0 765.0,385.4 765.5,386.8 766.1,388.2 766.6,389.7 767.1,391.1 767.6,392.5 768.2,393.9 768.7,395.3 769.2,396.7 769.7,398.1 770.3,399.5 770.8,400.9 771.3,402.3 771.8,403.7 772.4,405.1 772.9,406.5 773.4,408.0 773.9,409.4 774.5,410.8 775.0,412.2 775.5,413.6 776.0,415.0 776.6,416.4 777.1,417.8 777.6,419.2 778.1,420.6 778.6,422.0 779.2,423.4 779.7,424.9 780.2,426.3 780.7,427.7 781.2,429.1 781.7,430.5 782.2,431.9 782.7,433.4 783.1,434.8 783.6,436.2 784.1,437.6 784.6,439.0 785.1,440.5 785.5,441.9 786.0,443.3 786.5,444.7 786.9,446.2 787.4,447.6 787.9,449.0 788.4,450.5 788.8,451.9 789.3,453.3 789.8,454.7 790.2,456.2 790.7,457.6 791.2,459.0 791.7,460.4 792.1,461.9 792.6,463.3 793.1,464.7 793.6,466.1 794.0,467.6 794.5,469.0 795.0,470.4 795.4,471.8 795.9,473.3 796.4,474.7 796.8,476.1 797.3,477.6 797.8,479.0 798.2,480.4 798.7,481.8 799.1,483.3 799.6,484.7 800.0,486.1 800.5,487.6 800.9,489.0 801.4,490.4 801.8,491.9 802.3,493.3 802.7,494.8 803.1,496.2 803.6,497.6 804.0,499.1 804.4,500.5 804.9,501.9 805.3,503.4 805.7,504.8 806.2,506.3 806.6,507.7 807.0,509.1 807.4,510.6 807.8,512.0 808.3,513.5 808.7,514.9 809.1,516.4 809.5,517.8 809.9,519.2 810.4,520.7 810.8,522.1 811.2,523.6 811.6,525.0 812.0,526.5 812.4,527.9 812.8,529.4 813.3,530.8 813.7,532.2 814.1,533.7 814.5,535.1 814.9,536.6 815.3,538.0 815.7,539.5 816.1,540.9 816.5,542.4 816.9,543.8 817.3,545.3 817.7,546.7 818.1,548.2 818.5,549.6 818.9,551.1 819.3,552.5 819.7,554.0 820.1,555.4 820.5,556.9 820.8,558.3 821.2,559.8 821.6,561.2 822.0,562.7 822.4,564.1 822.8,565.6 823.2,567.0 823.6,568.5 824.0,569.9 824.4,571.3 824.8,572.8 825.2,574.2 825.7,575.7 826.1,577.1 826.6,578.5 827.0,580.0 827.5,581.4 827.9,582.8 828.4,584.2 828.9,585.7 829.4,587.1 829.9,588.5 830.4,589.9 830.9,591.3 831.4,592.7 831.9,594.2 832.4,595.6 832.9,597.0 833.4,598.4 833.9,599.8 834.4,601.2 834.9,602.6 835.5,604.0 836.0,605.4 836.5,606.9 837.0,608.3 837.5,609.7 838.0,611.1 838.5,612.5 839.1,613.9 839.6,615.3 840.1,616.7 840.6,618.2 841.1,619.6 841.6,621.0 842.1,622.4 842.6,623.8 843.1,625.2 843.7,626.6 844.2,628.0 844.7,629.5 845.2,630.9 845.7,632.3 846.2,633.7 846.7,635.1 847.2,636.5 847.7,638.0 848.1,639.4 848.6,640.8 849.1,642.2 849.6,643.6 850.1,645.1 850.6,646.5 851.1,647.9 851.5,649.3 852.0,650.8 852.5,652.2 853.0,653.6 853.4,655.0 853.9,656.5 854.4,657.9 854.8,659.3 855.3,660.8 855.8,662.2 856.2,663.6 856.7,665.0 857.1,666.5 857.6,667.9 858.1,669.3 858.5,670.8 859.0,672.2 859.5,673.6 859.9,675.0 860.4,676.5 860.9,677.9 861.3,679.3 861.8,680.8 862.3,682.2 862.7,683.6 863.2,685.0 863.7,686.5 864.1,687.9 864.6,689.3 865.1,690.7 865.6,692.2 866.0,693.6 866.5,695.0 867.0,696.4 867.5,697.9 868.0,699.3 868.4,700.7 868.9,702.1 869.4,703.5 869.9,705.0 870.4,706.4 870.9,707.8 871.4,709.2 871.9,710.6 872.4,712.1 872.9,713.5 873.4,714.9 873.9,716.3 874.4,717.7 874.9,719.1 875.4,720.6 875.9,722.0 876.4,723.4 876.9,724.8 877.3,726.2 877.8,727.6 878.3,729.1 878.8,730.5 879.3,731.9 879.7,733.3 880.2,734.8 880.6,736.2 881.1,737.6 881.5,739.1 881.9,740.5 882.4,741.9 882.8,743.4 883.1,744.8 883.5,746.3 883.9,747.7 884.2,749.2 884.6,750.7 884.9,752.1 885.2,753.6 885.5,755.1 885.8,756.5 886.1,758.0 886.4,759.5 886.7,760.9 887.0,762.4 887.2,763.9 887.5,765.4 887.7,766.9 888.0,768.3 888.2,769.8 888.4,771.3 888.7,772.8 888.9,774.3 889.1,775.8 889.3,777.2 889.6,778.7 889.8,780.2 890.0,781.7 890.2,783.2 890.4,784.7 890.7,786.2 890.9,787.6 891.1,789.1 891.3,790.6 891.5,792.1 891.7,793.6 891.9,795.1 892.1,796.6 892.3,798.1 892.5,799.6 892.7,801.0 892.9,802.5 893.1,804.0 893.2,805.5 893.4,807.0 893.6,808.5 893.8,810.0 893.9,811.5 894.1,813.0 894.3,814.5 894.4,816.0 894.6,817.5 894.8,818.9 894.9,820.4 895.1,821.9 895.2,823.4 895.3,824.9 895.5,826.4 895.6,827.9 895.8,829.4 895.9,830.9 896.1,832.4 896.2,833.9 896.3,835.4 896.5,836.9 896.6,838.4 896.7,839.9 896.9,841.4 897.0,842.9 897.1,844.4 897.3,845.9 897.4,847.4 897.5,848.9 897.7,850.4 897.8,851.9 897.9,853.4 898.1,854.8 898.2,856.3 898.3,857.8 898.5,859.3 898.6,860.8 898.8,862.3 898.9,863.8 899.0,865.3 899.2,866.8 899.3,868.3 899.5,869.8 899.6,871.3 899.8,872.8 899.9,874.3 900.1,875.8 900.2,877.3 900.4,878.8 900.5,880.3 900.7,881.8 900.8,883.3 901.0,884.8 901.1,886.2 901.3,887.7 901.5,889.2 901.6,890.7 901.8,892.2 901.9,893.7 902.1,895.2 902.3,896.7 902.4,898.2 902.6,899.7 902.8,901.2 902.9,902.7 903.1,904.2 903.3,905.7 903.4,907.1 903.6,908.6 903.8,910.1 903.9,911.6 904.1,913.1 904.3,914.6 904.4,916.1 904.6,917.6 904.8,919.1 904.9,920.6 905.1,922.1 905.3,923.6 905.4,925.1 905.6,926.6 905.7,928.1 905.9,929.5 906.1,931.0 906.2,932.5 906.4,934.0 906.5,935.5 906.7,937.0 906.8,938.5 906.9,940.0 907.1,941.5 907.2,943.0 907.3,944.5 907.5,946.0 907.6,947.5 907.7,949.0 907.8,950.5 907.9,952.0 908.1,953.5 908.2,955.0 908.3,956.5 908.4,958.0 908.5,959.5 908.6,961.0 908.6,962.5 908.7,964.0 908.8,965.5 908.9,967.0 909.0,968.5 909.1,970.0 909.1,971.5 909.2,973.0 909.3,974.5 909.4,976.0 909.4,977.5 909.5,979.0 909.6,980.5 909.7,982.0 909.7,983.5 909.8,985.0 909.9,986.5 909.9,988.0 910.0,989.5 910.1,991.0 910.1,992.5 910.2,994.0 910.3,995.5 910.3,997.0 910.4,998.5 910.5,1000.0 910.6,1001.5 910.6,1003.0 910.7,1004.5 910.8,1006.0 910.9,1007.5 910.9,1009.0 911.0,1010.5 911.1,1012.0 911.2,1013.5 911.2,1015.0 911.3,1016.5 911.4,1018.0 911.4,1019.5 911.5,1021.0 911.6,1022.5 911.6,1024.0 911.7,1025.5 911.8,1027.0 911.8,1028.5 911.9,1030.0 911.9,1031.5 912.0,1033.0 912.0,1034.5 912.1,1036.0 912.1,1037.5 912.2,1039.0"/>
<polyline stroke="#ff0000" points="236.2,1039.0 236.2,830.0 236.3,745.0 236.4,743.5 236.4,742.0 236.5,740.5 236.6,739.0 236.7,737.5 236.7,736.0 236.8,734.5 236.9,733.0 237.0,731.5 237.0,730.0 237.1,728.5 237.2,727.0 237.3,725.5 237.4,724.0 237.4,722.5 237.5,721.0 237.6,719.5 237.7,718.0 237.8,716.5 237.9,715.0 238.0,713.5 238.1,712.0 238.2,710.5 238.3,709.0 238.4,707.5 238.5,706.0 238.6,704.5 238.7,703.0 238.8,701.5 238.9,700.0 238.9,698.5 239.0,697.0 239.1,695.5 239.2,694.0 239.2,692.5 239.3,691.0 239.4,689.5 239.4,688.0 239.5,686.5 239.5,685.0 239.6,683.5 239.6,682.0 239.7,680.5 239.8,679.0 239.8,677.5 239.9,676.0 239.9,674.5 240.0,673.0 240.0,671.4 240.1,669.9 240.1,668.4 240.2,666.9 240.2,665.4 240.3,663.9 240.4,662.4 240.4,660.9 240.5,659.4 240.6,657.9 240.7,656.4 240.7,654.9 240.8,653.4 240.9,651.9 241.0,650.4 241.1,648.9 241.2,647.4 241.3,645.9 241.4,644.4 241.5,642.9 241.6,641.4 241.7,639.9 241.7,638.4 241.8,636.9 241.9,635.4 242.0,633.9 242.1,632.4 242.2,630.9 242.3,629.4 242.4,627.9 242.6,626.4 242.7,624.9 242.8,623.4 242.9,621.9 243.0,620.4 243.1,618.9 243.2,617.4 243.3,615.9 243.4,614.4 243.5,612.9 243.6,611.4 243.7,609.9 243.8,608.4 243.9,606.9 244.0,605.4 244.1,603.9 244.2,602.4 244.3,600.9 244.4,599.4 244.5,597.9 244.6,596.4 244.7,594.9 244.8,593.4 244.9,591.9 245.0,590.4 245.1,588.9 245.3,587.4 245.4,585.9 245.5,584.4 245.6,582.9 245.7,581.4 245.8,579.9 246.0,578.5 246.1,577.0 246.2,575.5 246.3,574.0 246.4,572.5 246.6,571.0 246.7,569.5 246.8,568.0 246.9,566.5 247.1,565.0 247.2,563.5 247.3,562.0 247.4,560.5 247.5,559.0 247.6,557.5 247.8,556.0 247.9,554.5 248.0,553.0 248.1,551.5 248.2,550.0 248.3,548.5 248.4,547.0 248.5,545.5 248.6,544.0 248.7,542.5 248.8,541.0 248.9,539.5 249.0,538.0 249.1,536.5 249.2,535.0 249.3,533.5 249.4,532.0 249.5,530.5 249.6,529.0 249.7,527.5 249.8,526.0 249.9,524.5 250.0,523.0 250.0,521.5 250.1,520.0 250.2,518.5 250.3,517.0 250.4,515.5 250.5,514.0 250.5,512.5 250.6,511.0 250.7,509.5 250.8,508.0 250.9,506.5 250.9,505.0 251.0,503.5 251.1,502.0 251.2,500.5 251.2,499.0 251.3,497.5 251.4,496.0 251.5,494.5 251.6,493.0 251.6,491.5 251.7,490.0 251.8,488.5 251.9,487.0 251.9,485.5 252.0,484.0 252.1,482.5 252.2,481.0 252.2,479.4 252.3,477.9 252.4,476.4 252.5,474.9 252.6,473.4 252.6,471.9 252.7,470.4 252.8,468.9 252.9,467.4 253.0,465.9 253.1,464.4 253.1,462.9 253.2,461.4 253.3,459.9 253.4,458.4 253.5,456.9 253.6,455.4 253.7,453.9 253.8,452.4 253.9,450.9 254.0,449.4 254.0,447.9 254.1,446.4 254.2,444.9 254.3,443.4 254.4,441.9 254.6,440.4 254.7,438.9 254.8,437.4 254.9,435.9 255.0,434.4 255.1,432.9 255.3,431.4 255.4,430.0 255.5,428.5 255.7,427.0 255.8,425.5 256.0,424.0 256.1,422.5 256.3,421.0 256.4,419.5 256.5,418.0 256.7,416.5 256.8,415.0 257.0,413.5 257.1,412.0 257.3,410.5 257.4,409.0 257.6,407.5 257.7,406.0 257.9,404.5 258.0,403.0 258.2,401.5 258.3,400.0 258.5,398.5 258.6,397.0 258.8,395.5 258.9,394.1 259.1,392.6 259.2,391.1 259.4,389.6 259.5,388.1 259.7,386.6 259.8,385.1 260.0,383.6 260.1,382.1 260.3,380.6 260.4,379.1 260.6,377.6 260.7,376.1 260.9,374.6 261.0,373.1 261.2,371.6 261.3,370.1 261.5,368.6 261.6,367.1 261.8,365.6 261.9,364.1 262.1,362.6 262.2,361.1 262.4,359.7 262.5,358.2 262.7,356.7 262.8,355.2 263.0,353.7 263.2,352.2 263.3,350.7 263.5,349.2 263.6,347.7 263.8,346.2 264.0,344.7 264.2,343.2 264.3,341.7 264.5,340.2 264.7,338.7 264.9,337.2 265.1,335.8 265.3,334.3 265.5,332.8 265.7,331.3 265.9,329.8 266.1,328.3 266.3,326.8 266.5,325.3 266.8,323.9 267.0,322.4 267.2,320.9 267.5,319.4 267.7,317.9 268.0,316.4 268.2,315.0 268.5,313.5 268.8,312.0 269.0,310.5 269.3,309.0 269.6,307.6 269.8,306.1 270.1,304.6 270.4,303.1 270.7,301.7 270.9,300.2 271.2,298.7 271.5,297.2 271.7,295.7 272.0,294.3 272.3,292.8 272.6,291.3 272.9,289.8 273.1,288.4 273.4,286.9 273.7,285.4 274.1,283.9 274.4,282.5 274.7,281.0 275.0,279.6 275.4,278.1 275.8,276.6 276.1,275.2 276.5,273.7 276.9,272.3 277.3,270.8 277.8,269.4 278.2,268.0 278.7,266.5 279.2,265.1 279.6,263.7 280.2,262.3 280.7,260.9 281.2,259.5 281.8,258.1 282.4,256.7 283.0,255.4 283.6,254.0 284.3,252.7 284.9,251.3 285.6,250.0 286.3,248.7 287.0,247.4 287.8,246.1 288.5,244.8 289.3,243.5 290.1,242.2 290.9,240.9 291.7,239.7 292.5,238.4 293.3,237.1 294.2,235.9 295.0,234.7 295.9,233.4 296.7,232.2 297.6,231.0 298.5,229.8 299.4,228.6 300.3,227.4 301.2,226.2 302.1,225.0 303.0,223.8 304.0,222.6 304.9,221.4 305.8,220.2 306.7,219.0 307.6,217.9 308.6,216.7 309.5,215.5 310.4,214.3 311.4,213.1 312.3,211.9 313.2,210.8 314.2,209.6 315.1,208.4 316.0,207.2 317.0,206.0 317.9,204.9 318.8,203.7 319.8,202.5 320.7,201.3 321.6,200.2 322.6,199.0 323.5,197.8 324.5,196.7 325.4,195.5 326.4,194.3 327.3,193.2 328.3,192.0 329.3,190.9 330.2,189.7 331.2,188.6 332.2,187.4 333.2,186.3 334.1,185.2 335.1,184.0 336.1,182.9 337.1,181.7 338.1,180.6 339.0,179.5 340.0,178.3 341.0,177.2 342.0,176.1 343.0,174.9 344.0,173.8 345.0,172.7 346.0,171.5 347.0,170.4 348.0,169.3 348.9,168.2 349.9,167.0 350.9,165.9 351.9,164.8 352.9,163.6 353.9,162.5 354.9,161.4 355.9,160.2 356.9,159.1 357.9,158.0 358.9,156.9 359.9,155.7 360.9,154.6 361.9,153.5 362.9,152.4 363.9,151.3 364.9,150.1 365.9,149.0 366.9,147.9 367.9,146.8 368.9,145.7 370.0,144.6 371.0,143.5 372.0,142.4 373.0,141.3 374.1,140.2 375.1,139.1 376.1,138.0 377.2,136.9 378.2,135.9 379.2,134.8 380.3,133.7 381.3,132.6 382.3,131.5 383.4,130.4 384.4,129.3 385.5,128.5 387.2,134.0 387.5,183.5 387.7,185.0 387.8,186.5 388.0,188.0 388.2,189.5 388.4,191.0 388.5,192.4 388.7,193.9 388.9,195.4 389.1,196.9 389.2,198.4 389.4,199.9 389.6,201.4 389.8,202.9 390.0,204.4 390.2,205.8 390.4,207.3 390.7,208.8 390.9,210.3 391.1,211.8 391.3,213.3 391.6,214.7 391.8,216.2 392.1,217.7 392.3,219.2 392.6,220.7 392.8,222.1 393.1,223.6 393.3,225.1 393.6,226.6 393.9,228.1 394.2,229.5 394.4,231.0 394.7,232.5 395.0,234.0 395.3,235.4 395.6,236.9 395.9,238.4 396.2,239.8 396.5,241.3 396.8,242.8 397.2,244.2 397.5,245.7 397.8,247.2 398.1,248.6 398.5,250.1 398.8,251.6 399.2,253.0 399.5,254.5 399.9,255.9 400.2,257.4 400.6,258.9 400.9,260.3 401.3,261.8 401.6,263.2 402.0,264.7 402.4,266.1 402.7,267.6 403.1,269.1 403.4,270.5 403.8,272.0 404.2,273.4 404.6,274.9 405.0,276.3 405.3,277.8 405.7,279.2 406.1,280.7 406.6,282.1 407.0,283.5 407.4,285.0 407.8,286.4 408.3,287.8 408.8,289.3 409.2,290.7 409.7,292.1 410.2,293.5 410.7,294.9 411.3,296.3 411.8,297.7 412.4,299.1 412.9,300.5 413.5,301.9 414.0,303.3 414.6,304.7 415.2,306.1 415.7,307.5 416.3,308.8 416.9,310.2 417.4,311.6 418.0,313.0 418.5,314.4 419.1,315.8 419.6,317.2 420.2,318.6 420.7,320.0 421.2,321.4 421.7,322.8 422.2,324.2 422.8,325.6 423.3,327.1 423.8,328.5 424.3,329.9 424.8,331.3 425.3,332.7 425.8,334.1 426.4,335.5 426.9,336.9 427.4,338.3 427.9,339.7 428.5,341.1 429.0,342.5 429.6,343.9 430.1,345.3 430.6,346.7 431.2,348.1 431.7,349.5 432.3,350.9 432.8,352.3 433.3,353.7 433.9,355.1 434.4,356.5 435.0,357.9 435.5,359.3 436.0,360.7 436.6,362.1 437.1,363.5 437.7,364.9 438.2,366.3 438.7,367.7 439.3,369.1 439.8,370.5 440.4,371.9 440.9,373.3 441.4,374.7 442.0,376.1 442.5,377.5 443.1,378.9 443.6,380.3 444.1,381.8 444.6,383.2 445.2,384.6 445.7,386.0 446.2,387.4 446.6,388.8 447.1,390.2 447.6,391.7 448.1,393.1 448.5,394.5 449.0,395.9 449.4,397.4 449.9,398.8 450.3,400.2 450.8,401.7 451.2,403.1 451.7,404.5 452.1,406.0 452.6,407.4 453.0,408.8 453.5,410.2 453.9,411.7 454.4,413.1 454.9,414.5 455.3,415.9 455.8,417.3 456.3,418.8 456.7,420.2 457.2,421.6 457.6,423.1 458.0,424.5 458.4,425.9 458.8,427.4 459.2,428.8 459.6,430.3 460.0,431.7 460.3,433.2 460.7,434.6 461.0,436.1 461.4,437.6 461.7,439.0 462.1,440.5 462.4,441.9 462.8,443.4 463.1,444.9 463.5,446.3 463.8,447.8 464.1,449.2 464.5,450.7 464.8,452.2 465.1,453.6 465.4,455.1 465.8,456.6 466.1,458.0 466.4,459.5 466.7,461.0 467.0,462.4 467.3,463.9 467.6,465.4 467.9,466.8 468.3,468.3 468.6,469.8 468.8,471.3 469.1,472.7 469.4,474.2 469.7,475.7 470.0,477.1 470.3,478.6 470.5,480.1 470.8,481.6 471.1,483.1 471.3,484.5 471.6,486.0 471.8,487.5 472.1,489.0 472.3,490.5 472.6,491.9 472.8,493.4 473.1,494.9 473.3,496.4 473.6,497.9 473.8,499.3 474.1,500.8 474.4,502.3 474.6,503.8 474.9,505.2 475.2,506.7 475.5,508.2 475.8,509.6 476.1,511.1 476.4,512.6 476.7,514.0 477.1,515.5 477.4,517.0 477.7,518.4 478.0,519.9 478.4,521.4 478.7,522.8 479.0,524.3 479.3,525.8 479.7,527.2 480.0,528.7 480.3,530.2 480.6,531.6 480.9,533.1 481.2,534.6 481.5,536.0 481.9,537.5 482.2,539.0 482.5,540.4 482.8,541.9 483.1,543.4 483.4,544.9 483.7,546.3 484.0,547.8 484.3,549.3 484.6,550.7 484.9,552.2 485.2,553.7 485.5,555.1 485.8,556.6 486.1,558.1 486.4,559.6 486.7,561.0 486.9,562.5 487.2,564.0 487.5,565.5 487.8,566.9 488.0,568.4 488.3,569.9 488.5,571.4 488.8,572.8 489.1,574.3 489.3,575.8 489.6,577.3 489.8,578.8 490.1,580.2 490.4,581.7 490.6,583.2 490.9,584.7 491.2,586.1 491.5,587.6 491.8,589.1 492.0,590.6 492.3,592.0 492.6,593.5 492.9,595.0 493.2,596.4 493.5,597.9 493.8,599.4 494.1,600.9 494.4,602.3 494.7,603.8 494.9,605.3 495.2,606.8 495.5,608.2 495.7,609.7 496.0,611.2 496.3,612.7 496.5,614.1 496.8,615.6 497.0,617.1 497.3,618.6 497.5,620.1 497.8,621.5 498.0,623.0 498.3,624.5 498.5,626.0 498.8,627.5 499.0,628.9 499.3,630.4 499.5,631.9 499.8,633.4 500.0,634.9 500.3,636.4 500.5,637.8 500.7,639.3 501.0,640.8 501.2,642.3 501.5,643.8 501.7,645.2 501.9,646.7 502.2,648.2 502.4,649.7 502.7,651.2 502.9,652.7 503.1,654.1 503.4,655.6 503.6,657.1 503.8,658.6 504.1,660.1 504.3,661.6 504.5,663.0 504.8,664.5 505.0,666.0 505.2,667.5 505.4,669.0 505.7,670.5 505.9,671.9 506.1,673.4 506.3,674.9 506.6,676.4 506.8,677.9 507.0,679.4 507.2,680.8 507.4,682.3 507.7,683.8 507.9,685.3 508.1,686.8 508.3,688.3 508.5,689.8 508.7,691.2 508.9,692.7 509.1,694.2 509.3,695.7 509.4,697.2 509.6,698.7 509.8,700.2 510.0,701.7 510.1,703.2 510.3,704.7 510.4,706.2 510.5,707.6 510.7,709.1 510.8,710.6 510.9,712.1 511.1,713.6 511.2,715.1 511.3,716.6 511.4,718.1 511.6,719.6 511.7,721.1 511.8,722.6 511.9,724.1 512.0,725.6 512.1,727.1 512.2,728.6 512.4,730.1 512.5,731.6 512.6,733.1 512.7,734.6 512.8,736.1 512.9,737.6 513.0,739.1 513.1,740.6 513.2,742.1 513.3,743.6 513.4,745.1 513.6,746.6 513.7,748.1 513.8,749.6 513.9,751.0 514.0,752.5 514.1,754.0 514.2,755.5 514.3,757.0 514.4,758.5 514.5,760.0 514.6,761.5 514.7,763.0 514.8,764.5 515.0,766.0 515.1,767.5 515.2,769.0 515.3,770.5 515.4,772.0 515.5,773.5 515.6,775.0 515.7,776.5 515.8,778.0 515.9,779.5 516.0,781.0 516.1,782.5 516.2,784.0 516.3,785.5 516.4,787.0 516.5,788.5 516.6,790.0 516.7,791.5 516.8,793.0 516.9,794.5 517.0,796.0 517.1,797.5 517.1,799.0 517.2,800.5 517.3,802.0 517.4,803.5 517.5,805.0 517.5,806.5 517.6,808.0 517.7,809.5 517.7,811.0 517.8,812.5 517.9,814.0 517.9,815.5 518.0,817.0 518.0,818.5 518.1,820.0 518.2,821.5 518.2,823.0 518.3,824.5 518.3,826.0 518.4,827.5 518.5,829.0 518.5,830.5 518.6,832.0 518.6,833.5 518.7,835.0 518.8,836.5 518.8,838.0 518.9,839.5 518.9,841.0 519.0,842.5 519.1,844.0 519.1,845.5 519.2,847.0 519.2,848.5 519.3,850.0 519.3,851.5 519.4,853.0 519.4,854.5 519.5,856.0 519.5,857.5 519.6,859.0 519.7,860.5 519.7,862.0 519.8,863.5 519.8,865.0 519.9,866.5 519.9,868.0 520.0,869.5 520.0,871.0 520.1,872.5 520.1,874.0 520.2,875.5 520.2,877.0 520.3,878.5 520.3,880.0 520.4,881.5 520.4,883.0 520.5,884.5 520.5,886.0 520.6,887.5 520.6,889.0 520.7,890.5 520.7,892.0 520.8,893.5 520.8,895.0 520.9,896.5 520.9,898.0 521.0,899.5 521.0,901.0 521.1,902.5 521.1,904.0 521.2,905.5 521.3,907.0 521.3,908.5 521.4,910.0 521.4,911.5 521.5,913.0 521.5,914.5 521.6,916.0 521.6,917.5 521.7,919.0 521.7,920.5 521.8,922.0 521.8,923.5 521.9,925.0 522.0,926.5 522.0,928.0 522.1,929.5 522.1,931.0 522.2,932.5 522.2,934.0 522.3,935.5 522.3,937.0 522.4,938.5 522.4,940.0 522.5,941.5 522.5,943.0 522.6,944.5 522.7,946.0 522.7,947.5 522.8,949.0 522.8,950.5 522.9,952.0 522.9,953.5 523.0,955.0 523.0,956.5 523.1,958.0 523.2,959.5 523.2,961.0 523.3,962.5 523.3,964.0 523.4,965.5 523.4,967.0 523.5,968.5 523.5,970.0 523.6,971.5 523.7,973.0 523.7,974.5 523.8,976.0 523.8,977.5 523.9,979.0 523.9,980.5 524.0,982.0 524.0,983.5 524.1,985.0 524.1,986.5 524.2,988.0 524.2,989.5 524.3,991.0 524.3,992.5 524.4,994.0 524.4,995.5 524.5,997.0 524.5,998.5 524.5,1000.0 524.6,1001.5 524.6,1003.0 524.6,1004.5 524.7,1006.0 524.7,1007.5 524.7,1009.0 524.8,1010.5 524.8,1012.0 524.8,1013.5 524.9,1015.0 524.9,1016.5 524.9,1018.0 525.0,1019.5 525.0,1021.0 525.0,1022.5 525.0,1024.0 525.1,1025.5 525.1,1027.0 525.1,1028.5 525.1,1030.0 525.2,1031.5 525.2,1033.0 525.2,1034.5 525.2,1036.0 525.3,1037.5 525.3,1039.0"/>
</g>
<g font-size="40" stroke="#000" stroke-width="1.4" stroke-linejoin="round" text-anchor="end">
<text x="197.5" y="1050.0" textLength="64" lengthAdjust="spacingAndGlyphs">0.0</text>
<text x="201" y="867.8" textLength="67.5" lengthAdjust="spacingAndGlyphs">0.<tspan font-family="NanumGothic, &apos;Liberation Sans&apos;, sans-serif">1</tspan></text>
<text x="197.5" y="685.6" textLength="64" lengthAdjust="spacingAndGlyphs">0.2</text>
<text x="197.5" y="503.4" textLength="64" lengthAdjust="spacingAndGlyphs">0.3</text>
<text x="197.5" y="321.2" textLength="64" lengthAdjust="spacingAndGlyphs">0.4</text>
<text x="197.5" y="139.0" textLength="64" lengthAdjust="spacingAndGlyphs">0.5</text>
</g>
<g font-size="40" stroke="#000" stroke-width="1.4" stroke-linejoin="round" text-anchor="middle">
<text x="233.0" y="1104" textLength="23" lengthAdjust="spacingAndGlyphs">0</text>
<text x="438.5" y="1104" textLength="77" lengthAdjust="spacingAndGlyphs"><tspan font-family="NanumGothic, &apos;Liberation Sans&apos;, sans-serif">1</tspan>00</text>
<text x="648.0" y="1104" textLength="73" lengthAdjust="spacingAndGlyphs">200</text>
<text x="855.5" y="1104" textLength="73" lengthAdjust="spacingAndGlyphs">300</text>
<text x="1063.0" y="1104" textLength="73" lengthAdjust="spacingAndGlyphs">400</text>
<text x="1270.5" y="1104" textLength="73" lengthAdjust="spacingAndGlyphs">500</text>
<text x="1478.0" y="1104" textLength="73" lengthAdjust="spacingAndGlyphs">600</text>
</g>
<text x="907" y="1186.3" stroke="#fff" stroke-width="0.6" font-size="54" text-anchor="middle" textLength="209.5" lengthAdjust="spacingAndGlyphs">Time (s)</text>
<text transform="translate(70.4,514) rotate(-90)" x="0" y="0" stroke="#fff" stroke-width="1.1" font-size="59.5" text-anchor="middle" textLength="472" lengthAdjust="spacingAndGlyphs">Potential (V vs SCE)</text>
<g id="legend">
<rect x="1068.8" y="50" width="498.5" height="3.5" fill="#d8d8d8"/>
<rect x="1064.9" y="50" width="3.9" height="182" fill="#9a9a9a"/>
<rect x="1567.3" y="50" width="4.2" height="182" fill="#777"/>
<rect x="1072.2" y="79.3" width="115.8" height="4" fill="#a6a64d"/>
<rect x="1072.2" y="83.3" width="115.8" height="3.5" fill="#808000"/>
<rect x="1072.2" y="138.9" width="115.8" height="4.1" fill="#0000ff"/>
<rect x="1072.2" y="143" width="115.8" height="3.7" fill="#a0a0ff"/>
<rect x="1072.2" y="195" width="115.8" height="7.6" fill="#ff1e1e"/>
<g font-size="47.5">
<text x="1198" y="97.7" textLength="365.5" lengthAdjust="spacingAndGlyphs">NCS@G (<tspan font-family="NanumGothic, &apos;Liberation Sans&apos;, sans-serif">1</tspan>,<tspan font-family="NanumGothic, &apos;Liberation Sans&apos;, sans-serif">1</tspan>,<tspan font-family="NanumGothic, &apos;Liberation Sans&apos;, sans-serif">1</tspan>)</text>
<text x="1198" y="154.9" textLength="365.5" lengthAdjust="spacingAndGlyphs">NCS@G (0,0,0)</text>
<text x="1198" y="212.1" textLength="111.7" lengthAdjust="spacingAndGlyphs">NCS</text>
</g></g>
</svg>
</body></html>
